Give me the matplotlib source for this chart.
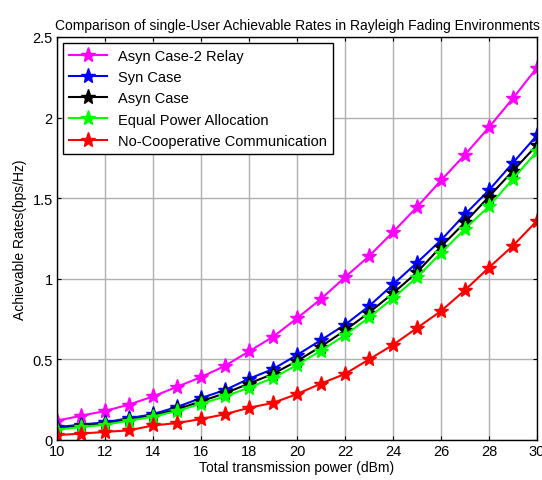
import numpy as np
import matplotlib.pyplot as plt

plt.rcParams['font.family'] = ['Liberation Sans', 'DejaVu Sans']

power = np.arange(10, 31)

asyn_2relay = [0.12, 0.15, 0.18, 0.22, 0.27, 0.33, 0.39, 0.46, 0.55, 0.64, 0.755,
               0.875, 1.01, 1.14, 1.29, 1.445, 1.61, 1.77, 1.94, 2.12, 2.31]
syn_case = [0.08, 0.095, 0.11, 0.135, 0.16, 0.205, 0.26, 0.31, 0.38, 0.44, 0.527,
            0.62, 0.715, 0.83, 0.965, 1.10, 1.24, 1.40, 1.55, 1.72, 1.89]
asyn_case = [0.07, 0.085, 0.10, 0.125, 0.15, 0.19, 0.24, 0.29, 0.35, 0.41, 0.49,
             0.58, 0.68, 0.79, 0.91, 1.04, 1.20, 1.35, 1.51, 1.67, 1.83]
equal_power = [0.065, 0.08, 0.095, 0.12, 0.145, 0.18, 0.225, 0.27, 0.325, 0.385, 0.465,
               0.555, 0.65, 0.76, 0.88, 1.01, 1.16, 1.31, 1.45, 1.62, 1.79]
no_coop = [0.03, 0.04, 0.05, 0.06, 0.09, 0.105, 0.13, 0.16, 0.20, 0.23, 0.285,
           0.35, 0.41, 0.50, 0.59, 0.695, 0.80, 0.93, 1.07, 1.205, 1.36]

series = [(asyn_2relay, '#ff00ff', 'Asyn Case-2 Relay'),
          (syn_case, '#0000ff', 'Syn Case'),
          (asyn_case, '#000000', 'Asyn Case'),
          (equal_power, '#00ff00', 'Equal Power Allocation'),
          (no_coop, '#ff0000', 'No-Cooperative Communication')]

fig = plt.figure(figsize=(5.42, 4.81), dpi=100)
ax = fig.add_axes([57 / 542, 1 - 441 / 481, 480 / 542, 403 / 481])

for vals, col, lab in series:
    ax.plot(power, vals, '-*', color=col, lw=1.5, markersize=11, label=lab)

ax.set_xlim(10, 30)
ax.set_ylim(0, 2.5)
ax.set_xticks(np.arange(10, 31, 2))
ax.set_yticks([0, 0.5, 1, 1.5, 2, 2.5])
ax.set_yticklabels(['0', '0.5', '1', '1.5', '2', '2.5'])
ax.grid(True, color='#b0b0b0', lw=1)
ax.tick_params(direction='in', labelsize=10.5, length=3, top=True, right=True, pad=3)
for s in ax.spines.values():
    s.set_linewidth(1)

ax.set_xlabel('Total transmission power (dBm)', fontsize=10, labelpad=1)
ax.set_ylabel('Achievable Rates(bps/Hz)', fontsize=10, labelpad=4)
ax.set_title('Comparison of single-User Achievable Rates in Rayleigh Fading Environments',
             fontsize=10, pad=6)

leg = ax.legend(loc='upper left', fontsize=10.5, fancybox=False, framealpha=1,
                edgecolor='black', handlelength=2.6, borderaxespad=0.4,
                labelspacing=0.5)
leg.get_frame().set_linewidth(1)

fig.savefig('out.png', dpi=100)
